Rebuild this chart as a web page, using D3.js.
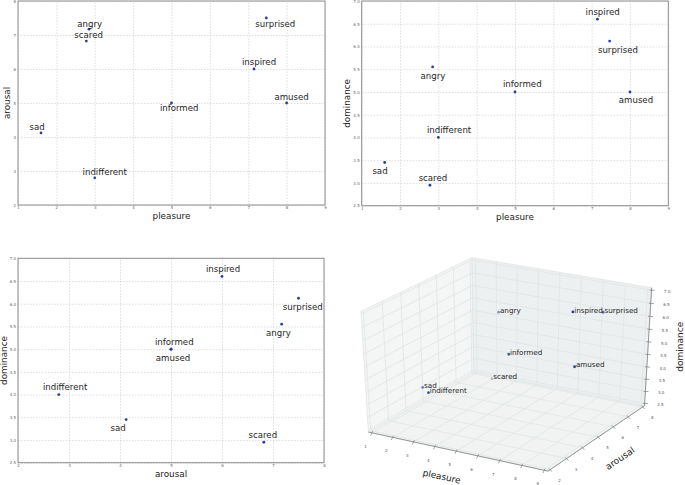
<!DOCTYPE html>
<html>
<head>
<meta charset="utf-8">
<script src="https://cdn.jsdelivr.net/npm/d3@7"></script>
<style>
  body { margin: 0; background: #fff; }
  text { font-family: "DejaVu Sans", sans-serif; }
</style>
</head>
<body>
<svg id="chart" width="685" height="485"></svg>
<script>
// emotion ratings (PAD model)
const emotions  = ["angry", "scared", "surprised", "inspired", "informed", "amused", "sad", "indifferent"];
const pleasure  = [2.85, 2.78, 7.47, 7.15, 5.0, 8.0, 1.6, 3.0];
const arousal   = [7.17, 6.82, 7.5, 6.0, 5.0, 5.0, 4.12, 2.8];
const dominance = [5.55, 2.95, 6.12, 6.6, 5.0, 5.0, 3.45, 4.0];

const pleasureTicks  = [1, 2, 3, 4, 5, 6, 7, 8, 9];
const arousalTicks   = [2, 3, 4, 5, 6, 7, 8];
const dominanceTicks = [2.5, 3.0, 3.5, 4.0, 4.5, 5.0, 5.5, 6.0, 6.5, 7.0];

// where each annotation sits relative to its point (px), same order as emotions
const offsetsPA = [[0.7, -5.7], [2.3, -6.7], [9, 5.7], [5, -6.7], [7.7, 5.3], [5, -6.3], [-4, -6.3], [10, -6]];
const offsetsPD = [[0.3, 8.7], [3, -7.3], [8.3, 9], [5.3, -7.3], [7.3, -7.7], [6, 8], [-4.7, 8.7], [10.7, -7.7]];
const offsetsAD = [[-3.3, 8.7], [-1, -7.7], [4.3, 8.7], [1, -7.7], [3.3, -7.7], [2, 8.3], [-8, 8], [6.3, -7.7]];

const svg = d3.select("#chart");
const dotColor = "#2c3c9c";

// ---------- 2D scatter panels ----------
function scatter(o) {
  const x = d3.scaleLinear().domain(o.xDomain).range([o.left, o.right]);
  const y = d3.scaleLinear().domain(o.yDomain).range([o.bottom, o.top]);
  const w = o.right - o.left, h = o.bottom - o.top;
  const g = svg.append("g");

  const styleAxis = ax => {
    ax.attr("font-family", "DejaVu Sans");
    ax.select(".domain").remove();
    ax.selectAll(".tick line")
      .attr("stroke", "#c4c9c9")
      .attr("stroke-width", 0.6)
      .attr("stroke-dasharray", "1.5,1.5");
    ax.selectAll(".tick text").attr("font-size", 4).attr("fill", "#666");
  };

  g.append("g")
    .attr("transform", `translate(0,${o.bottom})`)
    .call(d3.axisBottom(x).tickValues(o.xTicks).tickSizeInner(-h).tickSizeOuter(0)
      .tickPadding(1.5).tickFormat(d3.format("d")))
    .call(styleAxis);

  g.append("g")
    .attr("transform", `translate(${o.left},0)`)
    .call(d3.axisLeft(y).tickValues(o.yTicks).tickSizeInner(-w).tickSizeOuter(0)
      .tickPadding(2).tickFormat(o.yFormat))
    .call(styleAxis);

  g.append("rect")
    .attr("x", o.left).attr("y", o.top)
    .attr("width", w).attr("height", h)
    .attr("fill", "none")
    .attr("stroke", "#8c8c8c")
    .attr("stroke-width", 1);

  g.selectAll("circle.pt")
    .data(emotions)
    .join("circle")
    .attr("class", "pt")
    .attr("cx", (d, i) => x(o.xs[i]))
    .attr("cy", (d, i) => y(o.ys[i]))
    .attr("r", 1.4)
    .attr("fill", dotColor);

  g.selectAll("text.lab")
    .data(emotions)
    .join("text")
    .attr("class", "lab")
    .attr("x", (d, i) => x(o.xs[i]) + o.offsets[i][0])
    .attr("y", (d, i) => y(o.ys[i]) + o.offsets[i][1])
    .attr("dy", "0.36em")
    .attr("text-anchor", "middle")
    .attr("font-size", 8.6)
    .attr("fill", "#1e1e1e")
    .text(d => d);

  g.append("text")
    .attr("x", (o.left + o.right) / 2)
    .attr("y", o.bottom + o.xLabelGap)
    .attr("text-anchor", "middle")
    .attr("font-size", 8.8)
    .attr("fill", "#222")
    .text(o.xLabel);

  g.append("text")
    .attr("transform", `translate(${o.yLabelX},${(o.top + o.bottom) / 2}) rotate(-90)`)
    .attr("text-anchor", "middle")
    .attr("font-size", 8.8)
    .attr("fill", "#222")
    .text(o.yLabel);
}

const fmtInt = d3.format("d"), fmt1 = d3.format(".1f");

scatter({
  left: 18, right: 325, top: 1, bottom: 205,
  xDomain: [1, 9], yDomain: [2, 8],
  xTicks: pleasureTicks, yTicks: [2, 3, 4, 5, 6, 7, 8], yFormat: fmtInt,
  xs: pleasure, ys: arousal, offsets: offsetsPA,
  xLabel: "pleasure", yLabel: "arousal", xLabelGap: 14, yLabelX: 10
});

scatter({
  left: 361.7, right: 668.3, top: 1, bottom: 205.7,
  xDomain: [1, 9], yDomain: [2.5, 7.0],
  xTicks: pleasureTicks, yTicks: dominanceTicks, yFormat: fmt1,
  xs: pleasure, ys: dominance, offsets: offsetsPD,
  xLabel: "pleasure", yLabel: "dominance", xLabelGap: 14, yLabelX: 350
});

scatter({
  left: 18, right: 324, top: 258.3, bottom: 462.7,
  xDomain: [2, 8], yDomain: [2.5, 7.0],
  xTicks: arousalTicks, yTicks: dominanceTicks, yFormat: fmt1,
  xs: arousal, ys: dominance, offsets: offsetsAD,
  xLabel: "arousal", yLabel: "dominance", xLabelGap: 14.5, yLabelX: 7
});

// ---------- 3D panel (mplot3d look, elev 30 / azim -60) ----------
const elev = 30 * Math.PI / 180, azim = -60 * Math.PI / 180, camDist = 10;
const rv = [-Math.sin(azim), Math.cos(azim), 0];
const uv = [-Math.cos(azim) * Math.sin(elev), -Math.sin(azim) * Math.sin(elev), Math.cos(elev)];
const vv = [Math.cos(elev) * Math.cos(azim), Math.cos(elev) * Math.sin(azim), Math.sin(elev)];
const dot3 = (a, b) => a[0] * b[0] + a[1] * b[1] + a[2] * b[2];

const sx3 = d3.scaleLinear().domain([0, 1]).range([508.7, 707.7]);
const sy3 = d3.scaleLinear().domain([0, 1]).range([360.6, 228.5]);
const nP = d3.scaleLinear().domain([1, 9]).range([-0.5, 0.5]);
const nA = d3.scaleLinear().domain([2, 8]).range([-0.5, 0.5]);
const nD = d3.scaleLinear().domain([2.5, 7]).range([-0.5, 0.5]);
const H = 0.5 + 1 / 48;

function proj(q) {
  const f = camDist / (camDist - dot3(q, vv));
  return [sx3(dot3(q, rv) * f), sy3(dot3(q, uv) * f)];
}
const line3 = (a, b) => { const p = proj(a), r = proj(b); return `M${p[0]},${p[1]}L${r[0]},${r[1]}`; };
const poly3 = pts => "M" + pts.map(q => proj(q).join(",")).join("L") + "Z";

const g3 = svg.append("g");

const panes = [
  { pts: [[-H, -H, -H], [H, -H, -H], [H, H, -H], [-H, H, -H]], fill: "#f1f3f3" },
  { pts: [[-H, -H, -H], [-H, H, -H], [-H, H, H], [-H, -H, H]], fill: "#f4f5f5" },
  { pts: [[-H, H, -H], [H, H, -H], [H, H, H], [-H, H, H]], fill: "#edf0f0" }
];
g3.selectAll("path.pane")
  .data(panes)
  .join("path")
  .attr("class", "pane")
  .attr("d", d => poly3(d.pts))
  .attr("fill", d => d.fill)
  .attr("stroke", "#e2e5e5")
  .attr("stroke-width", 0.8);

// grid lines on the panes
const grid = [];
pleasureTicks.forEach(t => {
  const q = nP(t);
  grid.push([[q, -H, -H], [q, H, -H]], [[q, H, -H], [q, H, H]]);
});
arousalTicks.forEach(t => {
  const q = nA(t);
  grid.push([[-H, q, -H], [H, q, -H]], [[-H, q, -H], [-H, q, H]]);
});
dominanceTicks.forEach(t => {
  const q = nD(t);
  grid.push([[-H, -H, q], [-H, H, q]], [[-H, H, q], [H, H, q]]);
});
g3.selectAll("path.grid")
  .data(grid)
  .join("path")
  .attr("class", "grid")
  .attr("d", d => line3(d[0], d[1]))
  .attr("stroke", "#e1e4e4")
  .attr("stroke-width", 0.8)
  .attr("fill", "none");

// axes lines, ticks and tick labels
const axes3 = [
  { from: [-H, -H, -H], to: [H, -H, -H], ticks: pleasureTicks, at: t => [nP(t), -H, -H], off: [-6.4, 13.6], fmt: fmtInt },
  { from: [H, -H, -H], to: [H, H, -H], ticks: arousalTicks, at: t => [H, nA(t), -H], off: [9.5, 10.7], fmt: fmtInt },
  { from: [H, H, -H], to: [H, H, H], ticks: dominanceTicks, at: t => [H, H, nD(t)], off: [15.8, 1.2], fmt: fmt1 }
];
axes3.forEach(a => {
  g3.append("path")
    .attr("d", line3(a.from, a.to))
    .attr("stroke", "#7d8080")
    .attr("stroke-width", 0.8);
  const tg = g3.append("g");
  tg.selectAll("path")
    .data(a.ticks)
    .join("path")
    .attr("d", t => {
      const p = proj(a.at(t));
      return `M${p[0] - a.off[0] * 0.12},${p[1] - a.off[1] * 0.12}L${p[0] + a.off[0] * 0.2},${p[1] + a.off[1] * 0.2}`;
    })
    .attr("stroke", "#7d8080")
    .attr("stroke-width", 0.7);
  tg.selectAll("text")
    .data(a.ticks)
    .join("text")
    .attr("x", t => proj(a.at(t))[0] + a.off[0])
    .attr("y", t => proj(a.at(t))[1] + a.off[1])
    .attr("dy", "0.35em")
    .attr("text-anchor", "middle")
    .attr("font-size", 4)
    .attr("fill", "#555")
    .text(a.fmt);
});

// axis titles
const axisTitles3 = [
  { text: "pleasure", x: 441.7, y: 476.5, rot: 12.3 },
  { text: "arousal", x: 620, y: 458.3, rot: -34 },
  { text: "dominance", x: 679.5, y: 346.7, rot: -90 }
];
g3.selectAll("text.title")
  .data(axisTitles3)
  .join("text")
  .attr("class", "title")
  .attr("transform", d => `translate(${d.x},${d.y}) rotate(${d.rot})`)
  .attr("dy", "0.35em")
  .attr("text-anchor", "middle")
  .attr("font-size", 9)
  .attr("fill", "#222")
  .text(d => d.text);

// points with depth shading
const pts3 = emotions.map((name, i) => {
  const q = [nP(pleasure[i]), nA(arousal[i]), nD(dominance[i])];
  return { name, q, p: proj(q), depth: dot3(q, vv) };
});
const depthExt = d3.extent(pts3, d => d.depth);
const alpha = d3.scaleLinear().domain(depthExt).range([0.3, 1]);
pts3.sort((a, b) => a.depth - b.depth);

g3.selectAll("circle.p3")
  .data(pts3)
  .join("circle")
  .attr("class", "p3")
  .attr("cx", d => d.p[0])
  .attr("cy", d => d.p[1])
  .attr("r", 1.4)
  .attr("fill", dotColor)
  .attr("fill-opacity", d => alpha(d.depth));

g3.selectAll("text.l3")
  .data(pts3)
  .join("text")
  .attr("class", "l3")
  .attr("x", d => d.p[0] + 1.3)
  .attr("y", d => d.p[1] + 0.6)
  .attr("font-size", 7.2)
  .attr("fill", "#1e1e1e")
  .text(d => d.name);
</script>
</body>
</html>
